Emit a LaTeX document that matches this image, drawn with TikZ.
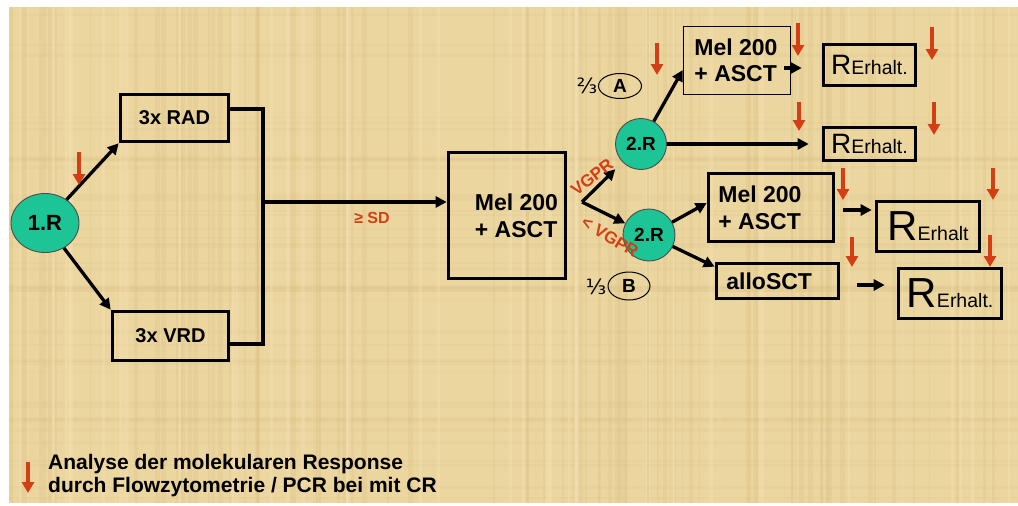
\documentclass[tikz,border=0pt]{standalone}
\usepackage{fontspec}
\setmainfont{Liberation Sans}
\newfontfamily\fracfont{DejaVu Sans}
\usetikzlibrary{arrows.meta,shapes.geometric}
\definecolor{papyrus}{RGB}{236,214,160}
\definecolor{fibre}{RGB}{214,188,128}
\definecolor{fibrelight}{RGB}{246,230,186}
\definecolor{tealfill}{RGB}{28,196,150}
\definecolor{redmark}{RGB}{212,62,20}
\newcommand\pxsize[2]{\fontsize{#1}{#2}\selectfont}
\begin{document}
\begin{tikzpicture}[x=1pt,y=-1pt,
  arr/.style={line width=3.3pt, -{Triangle[length=11pt,width=11pt]}},
  downmark/.style={draw=redmark, line width=4pt, -{Triangle[length=11pt,width=12pt]}},
  thickbox/.style={draw, line width=3.6pt, inner sep=0pt},
  thinbox/.style={draw, line width=1.5pt, inner sep=0pt},
  circ/.style={circle, draw=black!70, line width=0.9pt, fill=tealfill, inner sep=0pt, minimum size=51pt, font=\bfseries\pxsize{19}{19}},
  melt/.style={font=\bfseries\pxsize{23}{27}, align=left, inner sep=0pt, anchor=west},
  boxt/.style={font=\bfseries\pxsize{20}{20}},
  redlab/.style={text=redmark, font=\bfseries\pxsize{17}{17}, inner sep=0pt},
  oval/.style={ellipse, draw, line width=1pt, inner sep=0pt, font=\bfseries\pxsize{19}{19}},
  frac/.style={font=\fracfont\pxsize{21}{21}, inner sep=0pt}
]
\useasboundingbox (0,0) rectangle (1018,506);
\fill[papyrus] (9,7) rectangle (1018,503);
% papyrus fibres
\begin{scope}
\clip (9,7) rectangle (1018,503);
\pgfmathsetseed{11}
\foreach \i in {1,...,90}{
  \pgfmathsetmacro\xx{9+1009*rnd}
  \pgfmathsetmacro\ww{1+5*rnd}
  \draw[fibre, opacity=0.22, line width=\ww pt] (\xx,7) -- (\xx,503);
}
\foreach \i in {1,...,40}{
  \pgfmathsetmacro\yy{7+496*rnd}
  \pgfmathsetmacro\ww{1+4*rnd}
  \draw[fibre, opacity=0.15, line width=\ww pt] (9,\yy) -- (1018,\yy);
}
\foreach \i in {1,...,50}{
  \pgfmathsetmacro\xx{9+1009*rnd}
  \pgfmathsetmacro\ww{1+4*rnd}
  \draw[fibrelight, opacity=0.3, line width=\ww pt] (\xx,7) -- (\xx,503);
}
\end{scope}

% first phase
\node[ellipse, draw=black!70, line width=0.9pt, fill=tealfill, minimum width=68pt, minimum height=59pt, inner sep=0pt, font=\bfseries\pxsize{22}{22}] (r1) at (45,223) {1.R};
\node[thickbox, boxt, minimum width=108pt, minimum height=47pt] (rad) at (174.5,118) {3x RAD};
\node[thickbox, boxt, minimum width=116pt, minimum height=49pt] (vrd) at (170.5,336) {3x VRD};

\draw[arr] (r1) -- (rad.south west);
\draw[arr] (r1) -- (vrd.north west);

\coordinate (jt) at (263,109);
\coordinate (jb) at (263,344);
\coordinate (jm) at (263,202);
\draw[line width=4pt] ([yshift=9pt]rad.east) -- (jt) -- (jb) -- ([yshift=-8pt]vrd.east);

\node[thickbox, minimum width=117pt, minimum height=126pt,
  label={[melt, label distance=-28pt]west:{Mel 200\\+ ASCT}}] (mel0) at (507,215.5) {};
\draw[arr] (jm) -- (jm -| mel0.west);
\node[text=redmark, font=\bfseries\pxsize{16}{16}, inner sep=0pt] (sd) at (372,218) {≥ SD};

% fork
\coordinate (fork) at (582,202);
\node[circ] (r2a) at (641,144) {2.R};
\node[circ, minimum size=52pt] (r2b) at (649,235) {2.R};
\draw[arr, shorten >=10pt] (fork) -- (r2a);
\draw[arr] (fork) -- (r2b);
\node[redlab, rotate=38] (vg1) at (592,177) {VGPR};
\node[redlab, rotate=-31] (vg2) at (610,237) {< VGPR};

\node[oval, minimum width=43pt, minimum height=25pt] (optA) at (620,86) {A};
\node[frac] (f23) at (587,86) {⅔};
\node[oval, minimum width=42pt, minimum height=28pt] (optB) at (629,286) {B};
\node[frac] (f13) at (596,287) {⅓};

% upper branch
\node[thinbox, minimum width=107pt, minimum height=68pt,
  label={[melt, font=\bfseries\pxsize{23}{26}, label distance=-11.5pt]west:{Mel 200\\+ ASCT}}] (mel1) at (737,60.5) {};
\node[thickbox, minimum width=92pt, minimum height=41pt] (rb1) at (869.5,65)
  {\pxsize{28}{28}R\pxsize{19.5}{19.5}Erhalt.};
\node[thickbox, minimum width=92pt, minimum height=33pt] (rb2) at (869.5,144)
  {\pxsize{28}{28}R\pxsize{19.5}{19.5}Erhalt.};
\draw[arr] (r2a) -- ([yshift=-9.5pt]mel1.west);
\draw[arr, shorten >=13pt] ([xshift=-7pt,yshift=-7.5pt]mel1.east) -- ([xshift=-7pt,yshift=-7.5pt]mel1.east -| rb1.west);
\draw[arr, shorten >=13pt] (r2a) -- (r2a -| rb2.west);

% lower branch
\node[thickbox, minimum width=125pt, minimum height=68pt,
  label={[melt, label distance=-11.5pt]west:{Mel 200\\+ ASCT}}] (mel2) at (771,207.5) {};
\node[thickbox, minimum width=122pt, minimum height=35pt,
  label={[melt, label distance=-11.5pt]west:{alloSCT}}] (allo) at (777.5,281) {};
\node[thickbox, minimum width=103pt, minimum height=50pt] (rb3) at (928,226.5)
  {\pxsize{42}{42}R\pxsize{19.5}{19.5}Erhalt};
\node[thickbox, minimum width=103pt, minimum height=50pt] (rb4) at (950,293.5)
  {\pxsize{42}{42}R\pxsize{19.5}{19.5}Erhalt.};
\draw[arr] (r2b) -- ([yshift=4.5pt]mel2.west);
\draw[arr] (r2b) -- ([yshift=-5pt]allo.north west);
\draw[arr, shorten <=8pt, shorten >=3pt] ([yshift=-2.5pt]mel2.east) -- ([yshift=-2.5pt]mel2.east -| rb3.west);
\draw[arr, shorten <=17pt, shorten >=12pt] ([yshift=-4pt]allo.east) -- ([yshift=-4pt]allo.east -| rb4.west);

% red markers
\draw[downmark] (79,152) -- (79,185);
\draw[downmark] (657,43) -- (657,75);
\draw[downmark] (798,23) -- (798,56);
\draw[downmark] (932,27) -- (932,60);
\draw[downmark] (799,102) -- (799,131);
\draw[downmark] (934,102) -- (934,135);
\draw[downmark] (843,168) -- (843,200);
\draw[downmark] (993,168) -- (993,200);
\draw[downmark] (852,237) -- (852,267);
\draw[downmark] (990,235) -- (990,267);

% legend
\draw[downmark] (28,462) -- (28,493);
\node[font=\bfseries\pxsize{21}{23}, align=left, inner sep=0pt, anchor=west] (legend) at (48,476)
  {Analyse der molekularen Response\\durch Flowzytometrie / PCR bei mit CR};
\end{tikzpicture}
\end{document}
